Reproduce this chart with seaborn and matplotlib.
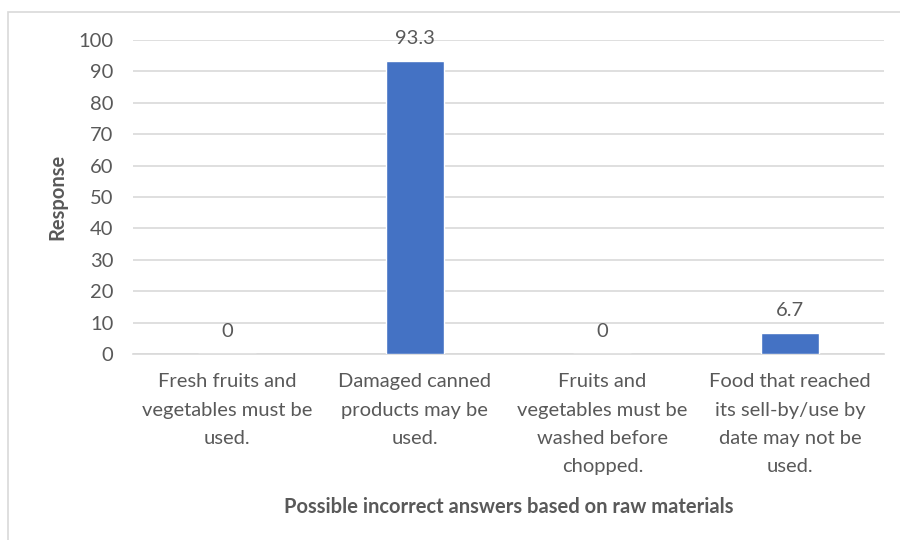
import matplotlib
matplotlib.use("Agg")
import matplotlib.pyplot as plt
import seaborn as sns
import pandas as pd
from matplotlib.patches import Rectangle

categories = [
    "Fresh fruits and\nvegetables must be\nused.",
    "Damaged canned\nproducts may be\nused.",
    "Fruits and\nvegetables must be\nwashed before\nchopped.",
    "Food that reached\nits sell-by/use by\ndate may not be\nused.",
]
responses = [0, 93.3, 0, 6.7]
y_ticks = [0, 10, 20, 30, 40, 50, 60, 70, 80, 90, 100]

sns.set_theme(style="white")
plt.rcParams["font.family"] = ["Lato", "DejaVu Sans"]

text_color = "#595959"
bar_color = "#4472C4"
grid_color = "#D9D9D9"
fs = 14.5

df = pd.DataFrame({"answer": categories, "response": responses})

fig = plt.figure(figsize=(9, 5.4), dpi=100)
ax = fig.add_axes([133 / 900, 1 - 354 / 540, (884 - 133) / 900, (354 - 40) / 540])

sns.barplot(data=df, x="answer", y="response", color=bar_color,
            width=0.31, saturation=1, ax=ax, zorder=3)

ax.set_ylim(0, 100)
ax.set_yticks(y_ticks)
ax.set_xlim(-0.5, len(categories) - 0.5)
ax.grid(axis="y", color=grid_color, linewidth=1.2, zorder=0)
ax.set_axisbelow(True)
for side in ["top", "right", "left"]:
    ax.spines[side].set_visible(False)
ax.spines["bottom"].set_color(grid_color)
ax.spines["bottom"].set_linewidth(1.2)

ax.tick_params(axis="y", length=0, pad=14, labelsize=fs, labelcolor=text_color)
ax.tick_params(axis="x", length=0, pad=14, labelsize=fs, labelcolor=text_color)
ax.set_xticks(range(len(categories)))
ax.set_xticklabels(categories, linespacing=1.8, ha="center")

for container in ax.containers:
    ax.bar_label(container, fmt="{:g}", padding=10, fontsize=fs, color=text_color)

ax.set_xlabel("Possible incorrect answers based on raw materials",
              fontsize=fs, fontweight="bold", color=text_color, labelpad=16)
ax.set_ylabel("Response", fontsize=fs, fontweight="bold", color=text_color, labelpad=8)

# chart area outline
fig.patches.append(Rectangle((8 / 900, -0.1), 1.2, 1 - 12 / 540 + 0.1,
                             transform=fig.transFigure, fill=False,
                             edgecolor="#D9D9D9", linewidth=1.2))

fig.savefig("out.png", dpi=100)
